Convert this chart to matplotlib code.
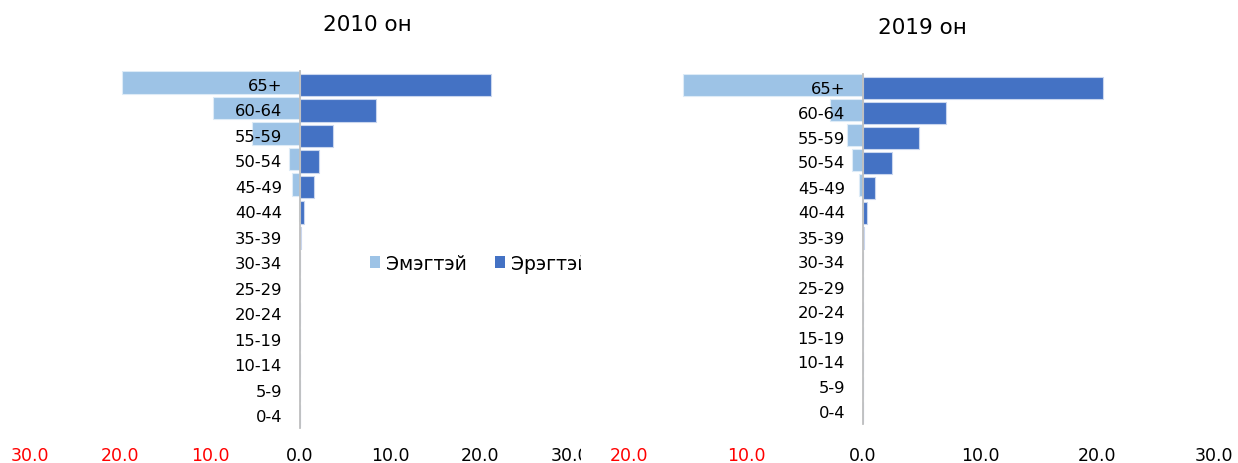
import matplotlib
matplotlib.use("Agg")
import matplotlib.pyplot as plt
from matplotlib.patches import Rectangle, Patch
import numpy as np

plt.rcParams['font.family'] = ['DejaVu Sans']

age_groups = ["0-4", "5-9", "10-14", "15-19", "20-24", "25-29", "30-34",
              "35-39", "40-44", "45-49", "50-54", "55-59", "60-64", "65+"]

female_2010 = [0, 0, 0, 0, 0, 0, 0.02, 0.05, 0.1, 0.9, 1.2, 5.3, 9.7, 19.8]
male_2010 = [0, 0, 0, 0, 0, 0, 0.05, 0.15, 0.4, 1.5, 2.1, 3.7, 8.4, 21.2]
female_2019 = [0, 0, 0, 0, 0, 0, 0, 0.02, 0.05, 0.3, 0.9, 1.4, 2.8, 15.4]
male_2019 = [0, 0, 0, 0, 0, 0, 0, 0.1, 0.35, 1.0, 2.5, 4.8, 7.1, 20.5]

ticks_2010 = [-30, -20, -10, 0, 10, 20, 30]
ticks_2019 = [-20, -10, 0, 10, 20, 30]

series_names = ["Эмэгтэй", "Эрэгтэй"]
titles = ["2010 он", "2019 он"]

c_female = "#9DC3E6"
c_male = "#4472C4"

W, H = 1238, 464
fig = plt.figure(figsize=(W / 100, H / 100), dpi=100)


def px_axes(x0, x1, ytop, ybot):
    return [x0 / W, 1 - ybot / H, (x1 - x0) / W, (ybot - ytop) / H]


ax1 = fig.add_axes(px_axes(30, 570, 72, 429))
ax2 = fig.add_axes(px_axes(629, 1214, 75, 425))
ax2.set_zorder(2)
ax2.patch.set_alpha(0)

# cover rectangle clipping the left chart area
cover = Rectangle((581 / W, 0), 1 - 581 / W, 1, transform=fig.transFigure,
                  facecolor="white", edgecolor="none", zorder=1)
fig.patches.append(cover)


def draw(ax, female, male, ticks, xlim, pad_bottom):
    ax.spines['left'].set_position(('data', 0))
    ax.spines['left'].set_color("#BFBFBF")
    ax.spines['left'].set_linewidth(1.3)
    for s in ['top', 'right', 'bottom']:
        ax.spines[s].set_visible(False)
    y = np.arange(len(age_groups))
    ax.barh(y + 0.05, -np.array(female), height=0.88, color=c_female,
            edgecolor="#DDEBF7", linewidth=0.8, label=series_names[0], zorder=1)
    ax.barh(y - 0.05, male, height=0.88, color=c_male,
            edgecolor="#C9D6EE", linewidth=0.8, label=series_names[1], zorder=1)
    ax.set_xlim(*xlim)
    ax.set_ylim(-0.5, len(age_groups) - 0.5)
    ax.set_yticks(y)
    ax.set_yticklabels(age_groups)
    ax.tick_params(axis='y', length=0, pad=13, labelsize=11.8)
    ax.set_xticks(ticks)
    ax.set_xticklabels([f"{abs(t):.1f}" for t in ticks])
    ax.tick_params(axis='x', length=0, pad=pad_bottom, labelsize=12.5)
    for lbl, t in zip(ax.get_xticklabels(), ticks):
        lbl.set_color("red" if t < 0 else "black")


draw(ax1, female_2010, male_2010, ticks_2010, (-30, 30), 13)
draw(ax2, female_2019, male_2019, ticks_2019, (-20, 30), 16)

fig.text(367 / W, 1 - 25 / H, titles[0], ha="center", va="center", fontsize=15.5)
fig.text(922 / W, 1 - 28 / H, titles[1], ha="center", va="center", fontsize=15.5)

handles = [Patch(facecolor=c_female, edgecolor="none"),
           Patch(facecolor=c_male, edgecolor="none")]
ax1.legend(handles, series_names, loc="center left",
           bbox_to_anchor=(370 / W, 1 - 264 / H), bbox_transform=fig.transFigure,
           ncol=2, frameon=False, fontsize=13.5, handlelength=0.55,
           handleheight=0.55, handletextpad=0.3, columnspacing=1.5,
           borderpad=0, borderaxespad=0)

fig.savefig("out.png", dpi=100, facecolor="white")
